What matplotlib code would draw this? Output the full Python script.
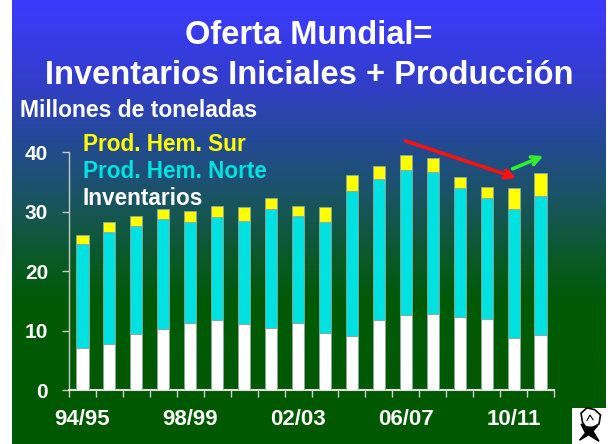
import numpy as np
import matplotlib
matplotlib.use("Agg")
import matplotlib.pyplot as plt
from matplotlib.colors import LinearSegmentedColormap
from matplotlib.patches import Rectangle, Polygon

seasons = ["94/95", "95/96", "96/97", "97/98", "98/99", "99/00", "00/01", "01/02", "02/03",
           "03/04", "04/05", "05/06", "06/07", "07/08", "08/09", "09/10", "10/11", "11/12"]
inventarios = [7.0, 7.7, 9.4, 10.2, 11.2, 11.7, 11.1, 10.5, 11.2, 9.5, 9.0, 11.8, 12.6, 12.7, 12.2, 11.9, 8.7, 9.2]
prod_norte = [17.5, 18.8, 18.1, 18.5, 17.0, 17.4, 17.3, 19.9, 18.0, 18.8, 24.5, 23.6, 24.4, 24.0, 21.7, 20.3, 21.7, 23.4]
prod_sur = [1.6, 1.7, 1.7, 1.8, 1.9, 1.9, 2.4, 1.9, 1.7, 2.4, 2.7, 2.2, 2.5, 2.3, 1.9, 2.0, 3.5, 3.8]
tick_labels = ["94/95", "98/99", "02/03", "06/07", "10/11"]
tick_idx = [0, 4, 8, 12, 16]
y_ticks = [0, 10, 20, 30, 40]

W, H = 608, 444
fig = plt.figure(figsize=(W / 100, H / 100), dpi=100, facecolor="white")

# gradient background
bg = fig.add_axes([12 / W, 0, (606 - 12) / W, 1])
bg.set_axis_off()
cmap = LinearSegmentedColormap.from_list("bg", [
    (0.0, (0.23, 0.23, 1.0)),
    (0.18, (0.20, 0.24, 0.80)),
    (0.32, (0.14, 0.29, 0.58)),
    (0.45, (0.10, 0.33, 0.38)),
    (0.58, (0.04, 0.35, 0.16)),
    (0.68, (0.0, 0.35, 0.02)),
    (1.0, (0.0, 0.35, 0.0)),
])
grad = np.linspace(0, 1, 256).reshape(-1, 1)
bg.imshow(grad, aspect="auto", cmap=cmap, extent=[0, 1, 1, 0])
bg.set_xlim(0, 1)
bg.set_ylim(1, 0)

# white notch bottom right for logo
fig.patches.append(Rectangle((572 / W, 0), (W - 572) / W, (H - 408) / H,
                             transform=fig.transFigure, facecolor="white", edgecolor="none", zorder=5))

ax = fig.add_axes([69 / W, 54 / H, 485 / W, 238 / H])
ax.set_facecolor("none")
x = np.arange(len(seasons))
inv = np.array(inventarios)
nor = np.array(prod_norte)
sur = np.array(prod_sur)
bw = 0.45
ec = "#8fa8a0"
ax.bar(x, inv, width=bw, color="white", edgecolor=ec, linewidth=0.6, zorder=3)
ax.bar(x, nor, width=bw, bottom=inv, color="#00E1E1", edgecolor=ec, linewidth=0.6, zorder=3)
ax.bar(x, sur, width=bw, bottom=inv + nor, color="#FFFF00", edgecolor=ec, linewidth=0.6, zorder=3)

ax.set_xlim(-0.5, len(seasons) - 0.5)
ax.set_ylim(0, 40)
for s in ["top", "right"]:
    ax.spines[s].set_visible(False)
ax.spines["left"].set_color("#c8c8c8")
ax.spines["bottom"].set_color("#e0e0e0")
ax.spines["left"].set_linewidth(1.0)
ax.spines["bottom"].set_linewidth(1.5)

ax.set_yticks(y_ticks)
ax.set_yticklabels([str(v) for v in y_ticks])
ax.tick_params(axis="y", length=5, width=1, color="#c8c8c8", pad=10,
               labelsize=15, labelcolor="white")
for t in ax.get_yticklabels():
    t.set_fontweight("bold")
    t.set_family("Liberation Sans")

ax.set_xticks([x[i] for i in tick_idx])
ax.set_xticklabels(tick_labels)
ax.set_xticks(np.arange(len(seasons) + 1) - 0.5, minor=True)
ax.tick_params(axis="x", which="major", length=0, pad=14, labelsize=16, labelcolor="white")
ax.tick_params(axis="x", which="minor", length=5, width=1, color="#d0d0d0")
for t in ax.get_xticklabels():
    t.set_fontweight("bold")
    t.set_family("Liberation Sans")

# arrows
ax.annotate("", xy=(16.2, 35.5), xytext=(11.9, 42.0), xycoords="data",
            arrowprops=dict(arrowstyle="->,head_length=0.6,head_width=0.3", color="#ff1010", lw=2.6),
            annotation_clip=False, zorder=6)
ax.annotate("", xy=(17.2, 39.5), xytext=(15.87, 37.0), xycoords="data",
            arrowprops=dict(arrowstyle="->,head_length=0.6,head_width=0.3", color="#33ee33", lw=2.6),
            annotation_clip=False, zorder=6)

# titles
fk = dict(family="Liberation Sans", fontweight="bold", color="white")
fig.text(309 / W, 1 - 44 / H, "Oferta Mundial=", ha="center", va="baseline", fontsize=23.5, **fk)
fig.text(309 / W, 1 - 84 / H, "Inventarios Iniciales + Producción", ha="center", va="baseline", fontsize=23.5, **fk)
fig.text(20 / W, 1 - 117 / H, "Millones de toneladas", ha="left", va="baseline", fontsize=16.5, **fk)

lk = dict(family="Liberation Sans", fontweight="bold")
fig.text(83 / W, 1 - 151 / H, "Prod. Hem. Sur", color="#FFFF00", fontsize=16.3, va="baseline", **lk)
fig.text(83 / W, 1 - 178 / H, "Prod. Hem. Norte", color="#00E1E1", fontsize=16.3, va="baseline", **lk)
fig.text(83 / W, 1 - 205 / H, "Inventarios", color="white", fontsize=16.3, va="baseline", **lk)

# simple cotton-boll logo
lg = fig.add_axes([575 / W, 2 / H, 30 / W, 36 / H])
lg.set_zorder(20)
lg.set_axis_off()
lg.set_xlim(0, 1)
lg.set_ylim(0, 1)
lg.add_patch(Polygon([[0.25, 0.55], [0.2, 0.8], [0.4, 0.95], [0.65, 0.9], [0.85, 0.75], [0.8, 0.5], [0.6, 0.4], [0.35, 0.42]],
                     closed=True, facecolor="white", edgecolor="black", lw=1.2))
lg.add_patch(Polygon([[0.2, 0.5], [0.35, 0.25], [0.15, 0.05], [0.45, 0.2], [0.8, 0.02], [0.6, 0.3], [0.75, 0.45], [0.45, 0.38]],
                     closed=True, facecolor="black", edgecolor="black", lw=1))
lg.plot([0.4, 0.5, 0.6], [0.6, 0.75, 0.62], color="black", lw=0.8)

fig.savefig("out.png", dpi=100, facecolor="white")
